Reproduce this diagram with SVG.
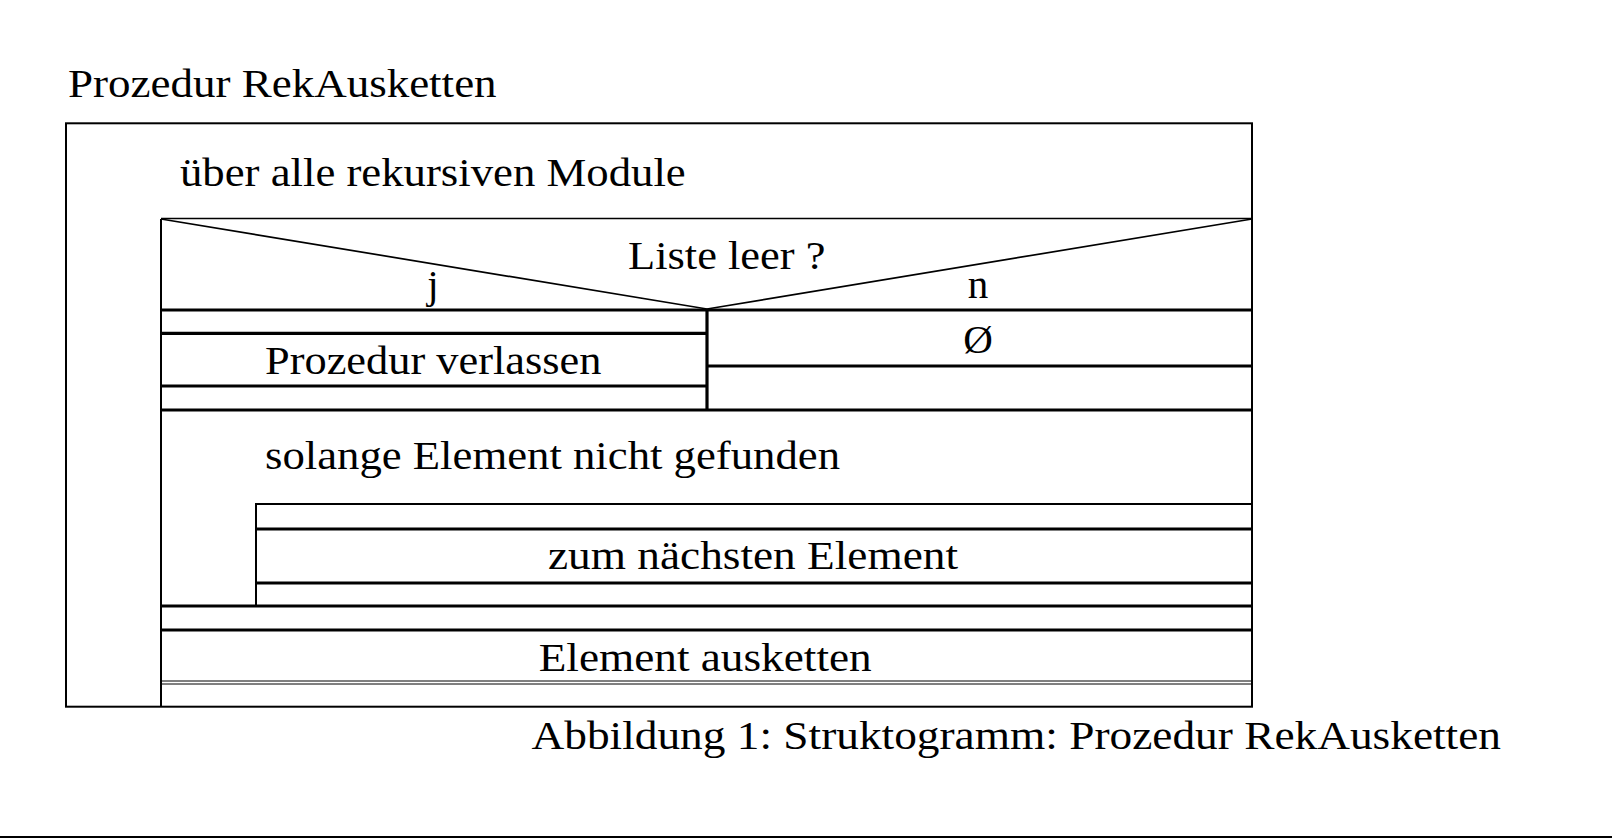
<svg xmlns="http://www.w3.org/2000/svg" width="1612" height="839" viewBox="0 0 1612 839">
<style>
text{font-family:"Liberation Serif","Times New Roman",serif;font-size:41px;fill:#000}
.thin{stroke:#000;stroke-width:1.7;fill:none}
.med{stroke:#000;stroke-width:2;fill:none}
.thick{stroke:#000;stroke-width:3.2;fill:none}
.hair{stroke:#000;stroke-width:1;fill:none}
</style>
<rect width="1612" height="839" fill="#fff"/>
<g id="title"><text x="68" y="97" textLength="428.6" lengthAdjust="spacingAndGlyphs">Prozedur RekAusketten</text></g>
<g id="procedure">
<rect class="med" x="66" y="123.3" width="1186" height="583.4"/>
</g>
<g id="loop-modules">
<text x="180" y="185.5" textLength="505.7" lengthAdjust="spacingAndGlyphs">über alle rekursiven Module</text>
<line class="med" x1="161" y1="219" x2="161" y2="706.7"/>
</g>
<g id="decision">
<line class="thin" x1="161" y1="218.5" x2="1252" y2="218.5"/>
<polyline class="thin" points="161,219 707,309 1252,219"/>
<text x="628" y="269" textLength="197.5" lengthAdjust="spacingAndGlyphs">Liste leer ?</text>
<text x="433" y="297.5" text-anchor="middle">j</text>
<text x="978" y="297.5" text-anchor="middle">n</text>
<line class="thick" x1="161" y1="310" x2="1252" y2="310"/>
<line class="thick" x1="707" y1="310" x2="707" y2="410"/>
</g>
<g id="branch-yes">
<line class="thick" x1="161" y1="333.3" x2="707" y2="333.3"/>
<text x="265" y="374" textLength="336.4" lengthAdjust="spacingAndGlyphs">Prozedur verlassen</text>
<line class="thick" x1="161" y1="386" x2="707" y2="386"/>
</g>
<g id="branch-no">
<text x="978" y="353" text-anchor="middle">Ø</text>
<line class="thick" x1="707" y1="366" x2="1252" y2="366"/>
</g>
<g id="while-loop">
<line class="thick" x1="161" y1="410" x2="1252" y2="410"/>
<text x="265" y="469" textLength="575" lengthAdjust="spacingAndGlyphs">solange Element nicht gefunden</text>
<line class="med" x1="256" y1="504" x2="1252" y2="504"/>
<line class="med" x1="256" y1="503" x2="256" y2="606"/>
</g>
<g id="next-element">
<line class="thick" x1="256" y1="529" x2="1252" y2="529"/>
<text x="548" y="569" textLength="410" lengthAdjust="spacingAndGlyphs">zum nächsten Element</text>
<line class="thick" x1="256" y1="583" x2="1252" y2="583"/>
<line class="thick" x1="161" y1="606" x2="1252" y2="606"/>
</g>
<g id="unlink">
<line class="thick" x1="161" y1="630" x2="1252" y2="630"/>
<text x="538.7" y="671" textLength="333" lengthAdjust="spacingAndGlyphs">Element ausketten</text>
<line class="hair" x1="161" y1="681" x2="1252" y2="681"/>
<line class="hair" x1="161" y1="684" x2="1252" y2="684"/>
</g>
<g id="caption"><text x="531.5" y="749" textLength="969.5" lengthAdjust="spacingAndGlyphs">Abbildung 1: Struktogramm: Prozedur RekAusketten</text></g>
<g id="connectors"></g>
<line class="med" x1="0" y1="837" x2="1612" y2="837"/>
</svg>
